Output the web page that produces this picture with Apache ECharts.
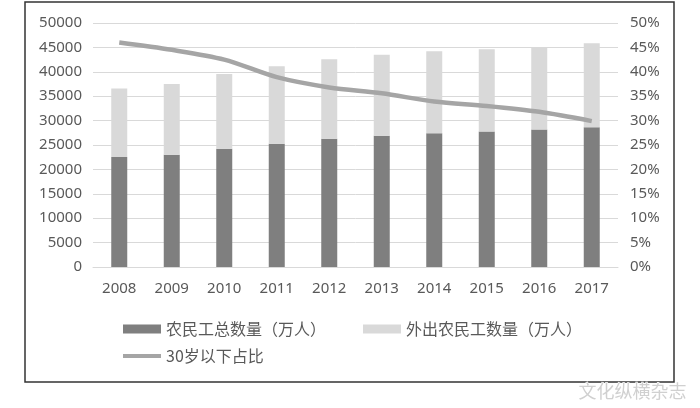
<!DOCTYPE html>
<html>
<head>
<meta charset="utf-8">
<script src="https://cdn.jsdelivr.net/npm/echarts@6/dist/echarts.min.js"></script>
<style>
html,body{margin:0;padding:0;background:#fff;}
#c{width:700px;height:408px;}
</style>
</head>
<body>
<div id="c"></div>
<script>
const years = ['2008','2009','2010','2011','2012','2013','2014','2015','2016','2017'];
const totalWorkers = [22542, 22978, 24223, 25278, 26261, 26894, 27395, 27747, 28171, 28652];
const migrantWorkers = [14041, 14533, 15335, 15863, 16336, 16610, 16821, 16884, 16934, 17185];
const under30Share = [0.460, 0.445, 0.425, 0.389, 0.368, 0.356, 0.339, 0.330, 0.318, 0.299];
const leftTicks = {min: 0, max: 50000, interval: 5000};
const rightTicks = {min: 0, max: 0.5, interval: 0.05};
const names = ['农民工总数量（万人）', '外出农民工数量（万人）', '30岁以下占比'];

const FONT = "'Noto Sans', 'Noto Sans CJK SC', sans-serif";
const TXT = '#595959';

const chart = echarts.init(document.getElementById('c'), null, {renderer: 'canvas'});
chart.setOption({
  animation: false,
  backgroundColor: '#ffffff',
  textStyle: {fontFamily: FONT},
  grid: {left: 93, right: 82, top: 23, bottom: 141, containLabel: false},
  xAxis: {
    type: 'category',
    data: years,
    axisLine: {show: true, lineStyle: {color: '#d9d9d9', width: 1}},
    axisTick: {show: false},
    axisLabel: {color: TXT, fontSize: 15, fontFamily: FONT, margin: 14}
  },
  yAxis: [
    {
      type: 'value', min: leftTicks.min, max: leftTicks.max, interval: leftTicks.interval,
      axisLine: {show: false}, axisTick: {show: false},
      axisLabel: {color: TXT, fontSize: 15, fontFamily: FONT, margin: 11,
        formatter: v => String(v)},
      splitLine: {show: true, lineStyle: {color: '#d9d9d9', width: 1}}
    },
    {
      type: 'value', min: rightTicks.min, max: rightTicks.max, interval: rightTicks.interval,
      position: 'right',
      axisLine: {show: false}, axisTick: {show: false},
      axisLabel: {color: TXT, fontSize: 15, fontFamily: FONT, margin: 12,
        formatter: v => Math.round(v * 100) + '%'},
      splitLine: {show: false}
    }
  ],
  legend: [
    {
      data: [names[0], names[1]],
      left: 118, top: 316,
      orient: 'horizontal',
      itemWidth: 38, itemHeight: 9, itemGap: 37,
      icon: 'rect',
      textStyle: {color: TXT, fontSize: 16, fontFamily: "'Noto Sans CJK SC', sans-serif"}
    },
    {
      data: [names[2]],
      left: 118, top: 343,
      itemWidth: 38, itemHeight: 4,
      icon: 'rect',
      textStyle: {color: TXT, fontSize: 16, fontFamily: "'Noto Sans CJK SC', sans-serif"}
    }
  ],
  series: [
    {
      name: names[0], type: 'bar', stack: 'w', data: totalWorkers,
      barWidth: 16, itemStyle: {color: '#7f7f7f'}
    },
    {
      name: names[1], type: 'bar', stack: 'w', data: migrantWorkers,
      barWidth: 16, itemStyle: {color: '#d9d9d9'}
    },
    {
      name: names[2], type: 'line', yAxisIndex: 1, data: under30Share,
      smooth: 0.3, showSymbol: false, symbol: 'none',
      lineStyle: {color: '#a5a5a5', width: 4.5},
      itemStyle: {color: '#a5a5a5'}
    }
  ],
  graphic: [
    {
      type: 'rect',
      shape: {x: 25, y: 2, width: 649, height: 380},
      style: {fill: 'none', stroke: '#333333', lineWidth: 1.5},
      silent: true
    },
    {
      type: 'text',
      left: 578, top: 382,
      style: {text: '文化纵横杂志', fill: '#d0d0d0', stroke: '#ffffff', lineWidth: 1,
        font: "18px 'Noto Sans CJK SC', sans-serif"},
      silent: true
    }
  ]
});
</script>
</body>
</html>
